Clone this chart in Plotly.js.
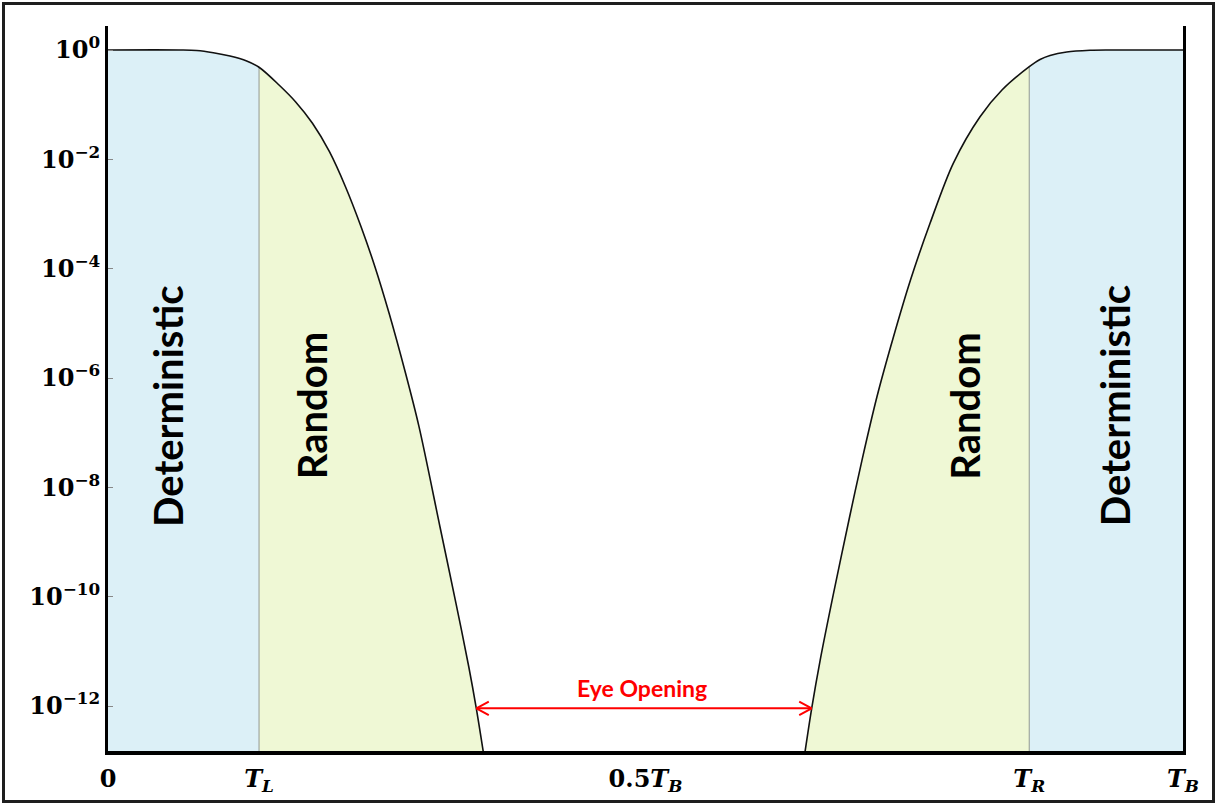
<!DOCTYPE html>
<html>
<head>
<meta charset="utf-8">
<script src="https://cdn.plot.ly/plotly-3.0.1.min.js"></script>
<style>
  html, body { margin: 0; padding: 0; background: #fff; }
  #wrap { position: relative; width: 1218px; height: 803px; }
  #chart { width: 1218px; height: 803px; }
  #frame {
    position: absolute; left: 2px; top: 2px; width: 1213px; height: 801px;
    border: 3px solid #1e1e1e; box-sizing: border-box; pointer-events: none;
  }
</style>
</head>
<body>
<div id="wrap"><div id="chart"></div><div id="frame"></div></div>
<script>
// Bathtub curve: bit error rate versus sampling position across one bit period (x in units of T_B).

// Sampling instants of the deterministic / random jitter boundaries
const tL = 0.1405;
const tR = 0.857;

// Left edge of the bathtub (BER vs. position)
const leftX   = [0, 0.0670, 0.0825, 0.0980, 0.1135, 0.1290, 0.1405, 0.1591, 0.1744, 0.1902, 0.2060,
                 0.2209, 0.2354, 0.2483, 0.2615, 0.2768, 0.2893, 0.3088, 0.3237, 0.3356, 0.3426, 0.3491];
const leftBer = [1, 1, 0.979, 0.892, 0.777, 0.629, 0.483, 0.229, 0.1133, 0.0456, 0.0138,
                 3.16e-3, 5.86e-4, 1.087e-4, 1.527e-5, 1.22e-6, 1.288e-7, 1.907e-9, 7.57e-11, 5.24e-12, 9.09e-13, 1.46e-13];

// Right edge of the bathtub
const rightX   = [0.6484, 0.6546, 0.6625, 0.6749, 0.6899, 0.7014, 0.7153, 0.7307, 0.7465, 0.7647,
                  0.7863, 0.8112, 0.8316, 0.857, 0.8670, 0.8763, 0.8918, 0.9135, 0.9321, 1];
const rightBer = [1.46e-13, 9.09e-13, 6.95e-12, 1.15e-10, 2.9e-9, 3.16e-8, 4.55e-7, 5.7e-6, 6.21e-5, 6.76e-4,
                  8.47e-3, 0.0603, 0.1855, 0.495, 0.670, 0.793, 0.919, 0.987, 1, 1];

// Eye opening measured at the target BER
const eyeBer   = 9.09e-13;
const eyeLeft  = 0.3426;
const eyeRight = 0.6546;

// Axis ticks
const yTickVals = [1, 1e-2, 1e-4, 1e-6, 1e-8, 1e-10, 1e-12];
const yTickText = ['10<sup>0</sup>', '10<sup>\u22122</sup>', '10<sup>\u22124</sup>', '10<sup>\u22126</sup>',
                   '10<sup>\u22128</sup>', '10<sup>\u221210</sup>', '10<sup>\u221212</sup>'];
const xTickVals = [0, tL, 0.5, tR, 1];
const xTickText = ['0', '<i>T</i><sub><i>L</i></sub>', '0.5<i>T</i><sub><i>B</i></sub>',
                   '<i>T</i><sub><i>R</i></sub>', '<i>T</i><sub><i>B</i></sub>'];

// Region labels
const regionLabels = [
  { text: 'Deterministic', x: 0.0558 },
  { text: 'Random',        x: 0.190 },
  { text: 'Random',        x: 0.797 },
  { text: 'Deterministic', x: 0.937 }
];

const BLUE = '#dcf0f7';
const GREEN = '#eff8d5';
const DIVIDER = '#a0a8a0';
const FLOOR = 1e-16;

function pick(xs, ys, test) {
  const x = [], y = [];
  xs.forEach((v, i) => { if (test(v)) { x.push(v); y.push(ys[i]); } });
  return { x, y };
}

const blueL  = pick(leftX, leftBer, v => v <= tL);
const greenL = pick(leftX, leftBer, v => v >= tL);
const greenR = pick(rightX, rightBer, v => v <= tR);
const blueR  = pick(rightX, rightBer, v => v >= tR);

function region(seg, color) {
  return {
    type: 'scatter', mode: 'lines', x: seg.x, y: seg.y,
    line: { width: 0, shape: 'spline', smoothing: 0.9, color: color },
    fill: 'tozeroy', fillcolor: color, hoverinfo: 'skip'
  };
}

const berAtTL = leftBer[leftX.indexOf(tL)];
const berAtTR = rightBer[rightX.indexOf(tR)];

const traces = [
  region(blueL, BLUE),
  region(greenL, GREEN),
  region(greenR, GREEN),
  region(blueR, BLUE),
  { type: 'scatter', mode: 'lines', x: [tL, tL], y: [FLOOR, berAtTL],
    line: { color: DIVIDER, width: 1.2 }, hoverinfo: 'skip' },
  { type: 'scatter', mode: 'lines', x: [tR, tR], y: [FLOOR, berAtTR],
    line: { color: DIVIDER, width: 1.2 }, hoverinfo: 'skip' },
  { type: 'scatter', mode: 'lines', x: leftX, y: leftBer,
    line: { color: '#111', width: 1.6, shape: 'spline', smoothing: 0.9 }, hoverinfo: 'skip' },
  { type: 'scatter', mode: 'lines', x: rightX, y: rightBer,
    line: { color: '#111', width: 1.6, shape: 'spline', smoothing: 0.9 }, hoverinfo: 'skip' },
  { type: 'scatter', mode: 'lines', x: [eyeLeft, eyeRight], y: [eyeBer, eyeBer],
    line: { color: '#ff0000', width: 2 }, hoverinfo: 'skip' }
];

const eyeY = Math.log10(eyeBer);
function chevronLeg(x, ax, ay) {
  return {
    x: x, y: eyeY, xref: 'x', yref: 'y', text: '', font: { size: 1 },
    showarrow: true, arrowhead: 0, arrowwidth: 2, arrowcolor: '#ff0000',
    ax: ax, ay: ay, standoff: 0, startstandoff: 0
  };
}

const annotations = [
  chevronLeg(eyeLeft, 14, -7.5), chevronLeg(eyeLeft, 14, 7.5),
  chevronLeg(eyeRight, -14, -7.5), chevronLeg(eyeRight, -14, 7.5),
  {
    x: 0.4967, y: 0.087, xref: 'x', yref: 'paper', xanchor: 'center', yanchor: 'middle',
    text: 'Eye Opening', showarrow: false,
    font: { family: 'Lato', size: 23, weight: 'bold', color: '#ff0000' }
  }
].concat(regionLabels.map(r => ({
  x: r.x, y: 0.476, xref: 'x', yref: 'paper', xanchor: 'center', yanchor: 'middle',
  text: r.text, showarrow: false, textangle: -90,
  font: { family: 'Lato', size: 40, weight: 'bold', color: '#000' }
})));

const tickFont = { family: 'DejaVu Serif', size: 24, weight: 'bold', color: '#000' };

const layout = {
  width: 1218, height: 803,
  margin: { l: 108, r: 35, t: 26, b: 52 },
  paper_bgcolor: '#fff', plot_bgcolor: '#fff',
  showlegend: false,
  xaxis: {
    range: [0, 1], showgrid: false, zeroline: false,
    showline: true, linecolor: '#000', linewidth: 3.5,
    ticks: '', tickvals: xTickVals, ticktext: xTickText, tickfont: tickFont,
    ticklabelstandoff: 4, fixedrange: true
  },
  yaxis: {
    type: 'log', range: [-12.822, 0.439], showgrid: false, zeroline: false,
    showline: true, linecolor: '#000', linewidth: 3, mirror: true,
    ticks: 'inside', ticklen: 5, tickwidth: 1, tickcolor: '#888',
    tickvals: yTickVals, ticktext: yTickText, tickfont: tickFont,
    fixedrange: true
  },
  annotations: annotations
};

Plotly.newPlot('chart', traces, layout, { staticPlot: true, displayModeBar: false });
</script>
</body>
</html>
